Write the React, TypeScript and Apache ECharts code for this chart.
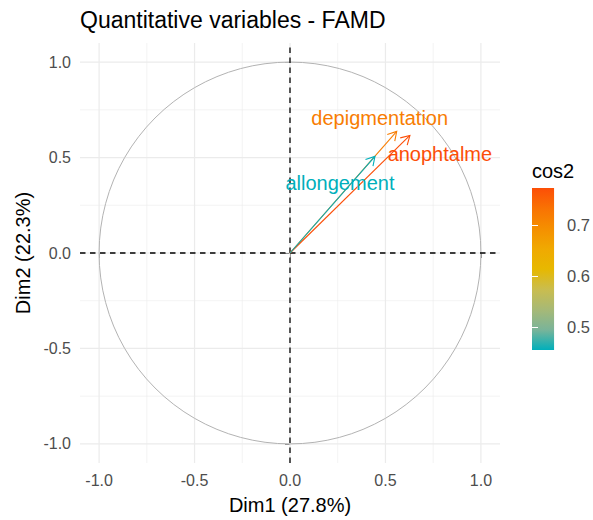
import React, { useEffect, useRef } from 'react';
import * as echarts from 'echarts';

// ---- data ----
const variables = ['depigmentation', 'anophtalme', 'allongement'];
const dim1 = [0.559, 0.628, 0.445];
const dim2 = [0.637, 0.616, 0.506];
const cos2 = [0.718, 0.772, 0.456];
const axisTickValues = [-1, -0.5, 0, 0.5, 1];
const minorGridValues = [-0.75, -0.25, 0.25, 0.75];
const legendTickValues = [0.5, 0.6, 0.7];
const xTitle = 'Dim1 (27.8%)';
const yTitle = 'Dim2 (22.3%)';
const chartTitle = 'Quantitative variables - FAMD';
const legendTitle = 'cos2';

// ---- style ----
// #00AFBB -> #E7B800 -> #FC4E07, interpolated in Lab space (as ggplot does)
const gradientColors = [
  '#00AFBB', '#7AB499', '#A7B976', '#CABD4E', '#E7B800',
  '#F0A901', '#F58F00', '#F97203', '#FC4E07',
];
const AXIS_MIN = -1.1;
const AXIS_MAX = 1.1;
const FONT = '"Liberation Sans", Arial, sans-serif';
const labelOffsets = [[-17, -13], [30, 19], [-35, 27]];

export default function App() {
  const ref = useRef<HTMLDivElement>(null);

  useEffect(() => {
    if (!ref.current) return;
    const chart = echarts.init(ref.current, undefined, { renderer: 'svg' });
    const cosMin = Math.min(...cos2);
    const cosMax = Math.max(...cos2);

    const gridLineRender = (width: number) => (params: any, api: any) => {
      const v = api.value(0);
      const a = api.coord([v, AXIS_MIN]);
      const b = api.coord([v, AXIS_MAX]);
      const c = api.coord([AXIS_MIN, v]);
      const d = api.coord([AXIS_MAX, v]);
      const style = { stroke: '#EBEBEB', lineWidth: width };
      return {
        type: 'group',
        children: [
          { type: 'line', shape: { x1: a[0], y1: a[1], x2: b[0], y2: b[1] }, style },
          { type: 'line', shape: { x1: c[0], y1: c[1], x2: d[0], y2: d[1] }, style },
        ],
      };
    };

    const tickAxisCommon = {
      type: 'value',
      min: AXIS_MIN,
      max: AXIS_MAX,
      axisLine: { show: false },
      axisTick: { show: true, length: 5, lineStyle: { color: '#333333', width: 1 }, customValues: axisTickValues },
      axisLabel: {
        customValues: axisTickValues,
        formatter: (v: number) => v.toFixed(1),
        color: '#4D4D4D',
        fontSize: 16,
        fontFamily: FONT,
        margin: 9,
      },
      splitLine: { show: false },
      nameLocation: 'middle',
      nameTextStyle: { fontSize: 20, color: '#000000', fontFamily: FONT },
    };

    const legendAxisCommon = {
      type: 'value',
      gridIndex: 1,
      min: cosMin,
      max: cosMax,
      z: 10,
      axisLine: { show: false },
      axisTick: { show: true, inside: true, length: 6, lineStyle: { color: '#FFFFFF', width: 1 }, customValues: legendTickValues },
      splitLine: { show: false },
    };

    chart.setOption({
      animation: false,
      backgroundColor: '#FFFFFF',
      textStyle: { fontFamily: FONT },
      title: {
        text: chartTitle,
        left: 75,
        top: 3,
        textStyle: { fontSize: 23, fontWeight: 'normal', color: '#000000', fontFamily: FONT },
      },
      grid: [
        { left: 80, top: 43, width: 420, height: 422 },
        { left: 532, top: 188, width: 33, height: 162 },
      ],
      xAxis: [
        { ...tickAxisCommon, gridIndex: 0, name: xTitle, nameGap: 32 },
        { type: 'value', gridIndex: 1, min: 0, max: 1, show: false },
      ],
      yAxis: [
        { ...tickAxisCommon, gridIndex: 0, name: yTitle, nameGap: 42 },
        {
          ...legendAxisCommon,
          position: 'right',
          axisLabel: {
            customValues: legendTickValues,
            formatter: (v: number) => v.toFixed(1),
            color: '#4D4D4D',
            fontSize: 16.5,
            fontFamily: FONT,
            margin: 13,
          },
        },
        { ...legendAxisCommon, position: 'left', axisLabel: { show: false } },
      ],
      visualMap: {
        type: 'continuous',
        show: false,
        seriesIndex: 4,
        dimension: 2,
        min: cosMin,
        max: cosMax,
        inRange: { color: gradientColors },
      },
      graphic: [
        {
          type: 'text',
          left: 532,
          top: 161,
          style: { text: legendTitle, fontSize: 20, fill: '#000000', fontFamily: FONT },
        },
      ],
      series: [
        {
          type: 'custom',
          name: 'minorGrid',
          xAxisIndex: 0,
          yAxisIndex: 0,
          z: 1,
          silent: true,
          data: minorGridValues.map((v) => [v, 0]),
          renderItem: gridLineRender(0.6),
        },
        {
          type: 'custom',
          name: 'majorGrid',
          xAxisIndex: 0,
          yAxisIndex: 0,
          z: 1,
          silent: true,
          data: axisTickValues.map((v) => [v, 0]),
          renderItem: gridLineRender(1.2),
        },
        {
          type: 'custom',
          name: 'circle',
          xAxisIndex: 0,
          yAxisIndex: 0,
          z: 2,
          silent: true,
          data: [[0, 0]],
          renderItem: (params: any, api: any) => {
            const c = api.coord([0, 0]);
            const s = api.size([1, 1]);
            return {
              type: 'circle',
              shape: { cx: c[0], cy: c[1], r: s[0] },
              style: { fill: 'none', stroke: '#B3B3B3', lineWidth: 1 },
            };
          },
        },
        {
          type: 'custom',
          name: 'zeroLines',
          xAxisIndex: 0,
          yAxisIndex: 0,
          z: 3,
          silent: true,
          data: [[0, 0]],
          renderItem: (params: any, api: any) => {
            const a = api.coord([0, AXIS_MIN]);
            const b = api.coord([0, AXIS_MAX]);
            const c = api.coord([AXIS_MIN, 0]);
            const d = api.coord([AXIS_MAX, 0]);
            const style = { stroke: '#000000', lineWidth: 1.3, lineDash: [5.5, 4.5] };
            return {
              type: 'group',
              children: [
                { type: 'line', shape: { x1: a[0], y1: a[1], x2: b[0], y2: b[1] }, style },
                { type: 'line', shape: { x1: c[0], y1: c[1], x2: d[0], y2: d[1] }, style },
              ],
            };
          },
        },
        {
          type: 'custom',
          name: 'variables',
          xAxisIndex: 0,
          yAxisIndex: 0,
          z: 4,
          data: variables.map((n, i) => [dim1[i], dim2[i], cos2[i], n]),
          renderItem: (params: any, api: any) => {
            const o = api.coord([0, 0]);
            const t = api.coord([api.value(0), api.value(1)]);
            const color = api.visual('color');
            const ang = Math.atan2(t[1] - o[1], t[0] - o[0]);
            const L = 10;
            const h = Math.PI / 6;
            const w1 = [t[0] - L * Math.cos(ang - h), t[1] - L * Math.sin(ang - h)];
            const w2 = [t[0] - L * Math.cos(ang + h), t[1] - L * Math.sin(ang + h)];
            const off = labelOffsets[params.dataIndex] || [0, 0];
            const style = { stroke: color, lineWidth: 1.1, fill: 'none' };
            return {
              type: 'group',
              children: [
                { type: 'line', shape: { x1: o[0], y1: o[1], x2: t[0], y2: t[1] }, style },
                { type: 'polyline', shape: { points: [w1, t, w2] }, style },
                {
                  type: 'text',
                  x: t[0] + off[0],
                  y: t[1] + off[1],
                  style: {
                    text: variables[params.dataIndex],
                    fill: color,
                    fontSize: 20,
                    fontFamily: FONT,
                    align: 'center',
                    verticalAlign: 'middle',
                  },
                },
              ],
            };
          },
        },
        {
          type: 'custom',
          name: 'colorbar',
          xAxisIndex: 1,
          yAxisIndex: 1,
          z: 1,
          silent: true,
          data: [[0, cosMin]],
          renderItem: (params: any, api: any) => {
            const tl = api.coord([0, cosMax]);
            const br = api.coord([1, cosMin]);
            const n = gradientColors.length;
            return {
              type: 'rect',
              shape: { x: tl[0], y: tl[1], width: br[0] - tl[0], height: br[1] - tl[1] },
              style: {
                fill: new echarts.graphic.LinearGradient(
                  0, 0, 0, 1,
                  gradientColors.map((c, i) => ({ offset: 1 - i / (n - 1), color: c })).reverse()
                ),
              },
            };
          },
        },
      ],
    });

    return () => chart.dispose();
  }, []);

  return (
    <div
      ref={ref}
      style={{ position: 'fixed', left: 0, top: 0, width: 593, height: 520, background: '#FFFFFF' }}
    />
  );
}
